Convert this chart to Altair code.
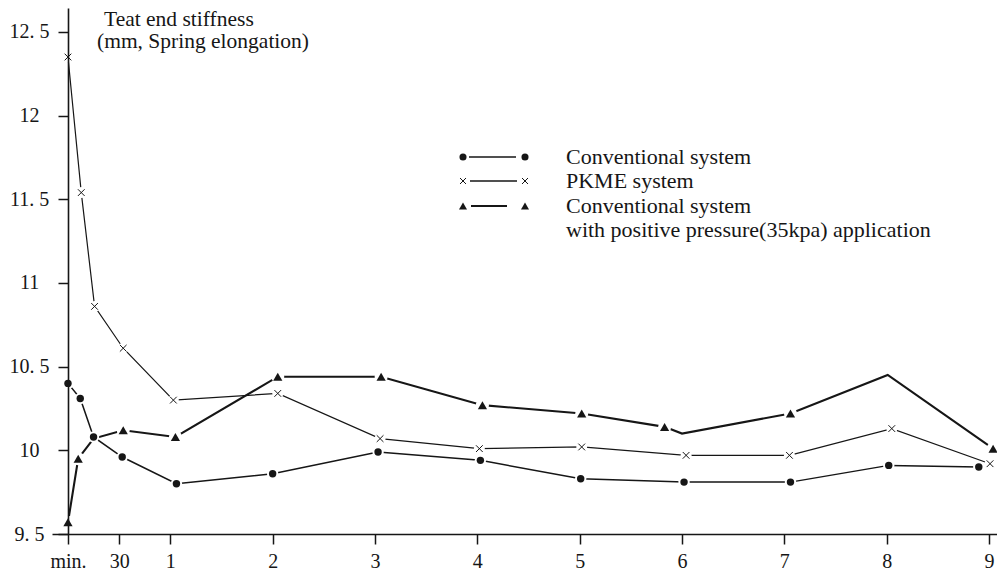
import altair as alt
import pandas as pd

# ---- data (hours after start; "min." marks the 0 origin, "30" = 30 min) ----
conv_t = [0, 0.12, 0.25, 0.53, 1.06, 2.0, 3.03, 4.03, 5.01, 6.02, 7.06, 8.02, 8.9]
conv_v = [10.40, 10.31, 10.08, 9.96, 9.80, 9.86, 9.99, 9.94, 9.83, 9.81, 9.81, 9.91, 9.90]

pkme_t = [0, 0.13, 0.26, 0.54, 1.03, 2.05, 3.05, 4.02, 5.02, 6.04, 7.05, 8.05, 9.01]
pkme_v = [12.35, 11.54, 10.86, 10.61, 10.30, 10.34, 10.07, 10.01, 10.02, 9.97, 9.97, 10.13, 9.92]

pos_t = [0, 0.10, 0.25, 0.54, 1.05, 2.05, 3.06, 4.05, 5.02, 5.83, 6.0, 7.06, 8.01, 9.04]
pos_v = [9.57, 9.95, 10.07, 10.12, 10.08, 10.44, 10.44, 10.27, 10.22, 10.14, 10.10, 10.22, 10.45, 10.01]
pos_marked = [1, 1, 0, 1, 1, 1, 1, 1, 1, 1, 0, 1, 0, 1]

x_ticks = [0, 0.5, 1, 2, 3, 4, 5, 6, 7, 8, 9]
y_ticks = [9.5, 10, 10.5, 11, 11.5, 12, 12.5]

title_lines = ["Teat end stiffness", "(mm, Spring elongation)"]
legend_labels = ["Conventional system", "PKME system", "Conventional system",
                 "with positive pressure(35kpa) application"]

FONT = "Liberation Serif"
INK = "#161616"
CROSS = "M-1,-1L1,1M1,-1L-1,1"

conv = pd.DataFrame({"t": conv_t, "v": conv_v})
pkme = pd.DataFrame({"t": pkme_t, "v": pkme_v})
pos = pd.DataFrame({"t": pos_t, "v": pos_v, "m": pos_marked})

xs = alt.Scale(domain=[-0.156, 9.078], nice=False, zero=False)
ys = alt.Scale(domain=[9.5, 12.643], nice=False, zero=False)

x_axis = alt.Axis(values=x_ticks, title=None, grid=False,
                  labelExpr="datum.value == 0 ? 'min.' : (datum.value == 0.5 ? '30' : datum.label)",
                  labelFont=FONT, labelFontSize=20, labelColor=INK,
                  tickSize=10, tickWidth=1.5, tickColor=INK, labelPadding=7,
                  domainColor=INK, domainWidth=1.6, zindex=1, labelFlush=False,
                  labelOverlap=False)
y_axis = alt.Axis(values=y_ticks, title=None, grid=False, format=".1~f",
                  labelExpr="replace(datum.label, '.', '. ')",
                  labelFont=FONT, labelFontSize=20, labelColor=INK,
                  labelAlign="center", labelBaseline="middle", labelPadding=29,
                  tickSize=10, tickWidth=1.5, tickColor=INK,
                  domainColor=INK, domainWidth=1.6, offset=-16, zindex=1,
                  labelFlush=False, labelOverlap=False)

X = alt.X("t:Q", scale=xs, axis=x_axis)
Y = alt.Y("v:Q", scale=ys, axis=y_axis)

l_conv = alt.Chart(conv).mark_line(color=INK, strokeWidth=1.5).encode(x=X, y=Y, order="t:Q")
l_pkme = alt.Chart(pkme).mark_line(color=INK, strokeWidth=1.2).encode(x=X, y=Y, order="t:Q")
l_pos = alt.Chart(pos).mark_line(color=INK, strokeWidth=2.1).encode(x=X, y=Y, order="t:Q")

pos_m = alt.Chart(pos).transform_filter("datum.m == 1")

masks = [
    alt.Chart(conv).mark_point(shape="circle", filled=True, color="white", opacity=1, size=130).encode(x=X, y=Y),
    alt.Chart(pkme).mark_point(shape="circle", filled=True, color="white", opacity=1, size=120).encode(x=X, y=Y),
    pos_m.mark_point(shape="circle", filled=True, color="white", opacity=1, size=170).encode(x=X, y=Y),
]

m_conv = alt.Chart(conv).mark_point(shape="circle", filled=True, color=INK, opacity=1, size=55).encode(x=X, y=Y)
m_pkme = alt.Chart(pkme).mark_point(shape=CROSS, filled=False, color=INK, opacity=1, size=45,
                                    strokeWidth=1.0).encode(x=X, y=Y)
m_pos = pos_m.mark_point(shape="triangle-up", filled=True, color=INK, opacity=1, size=85).encode(x=X, y=Y)

one = alt.Data(values=[{"k": 1}])

# title text (inside plot, top-left)
title_layers = []
for txt, tx, ty in zip(title_lines, [52, 45], [18, 40]):
    title_layers.append(
        alt.Chart(one).mark_text(text=txt, align="left", baseline="alphabetic", font=FONT,
                                 fontSize=21.5, color=INK).encode(x=alt.value(tx), y=alt.value(ty)))

# hand-made legend
leg_y = [149, 173, 198, 222]
sym_l, sym_r = 411, 473
leg_layers = []
sym_specs = [
    dict(shape="circle", filled=True, size=50, strokeWidth=1),
    dict(shape=CROSS, filled=False, size=36, strokeWidth=1.0),
    dict(shape="triangle-up", filled=True, size=65, strokeWidth=1),
]
line_spans = [(417, 464), (418, 465), (419, 455)]
line_w = [1.4, 1.3, 1.9]
for i in range(3):
    yy = leg_y[i]
    a, b = line_spans[i]
    leg_layers.append(alt.Chart(one).mark_rule(color=INK, strokeWidth=line_w[i]).encode(
        x=alt.value(a), x2=alt.value(b), y=alt.value(yy)))
    for sx in (sym_l, sym_r):
        leg_layers.append(alt.Chart(one).mark_point(color=INK, opacity=1, **sym_specs[i]).encode(
            x=alt.value(sx), y=alt.value(yy)))
for i, lab in enumerate(legend_labels):
    leg_layers.append(alt.Chart(one).mark_text(text=lab, align="left", baseline="middle", font=FONT,
                                               fontSize=22, color=INK).encode(
        x=alt.value(514), y=alt.value(leg_y[i])))

chart = alt.layer(
    l_conv, l_pkme, l_pos, *masks, m_conv, m_pkme, m_pos, *title_layers, *leg_layers
).properties(
    width=945, height=526,
    padding={"left": 44, "top": 0, "right": 0, "bottom": 41},
    autosize=alt.AutoSizeParams(type="none"),
    background="white",
).configure_view(strokeWidth=0)

chart.save("out.html", embed_options={"renderer": "svg", "actions": False})
